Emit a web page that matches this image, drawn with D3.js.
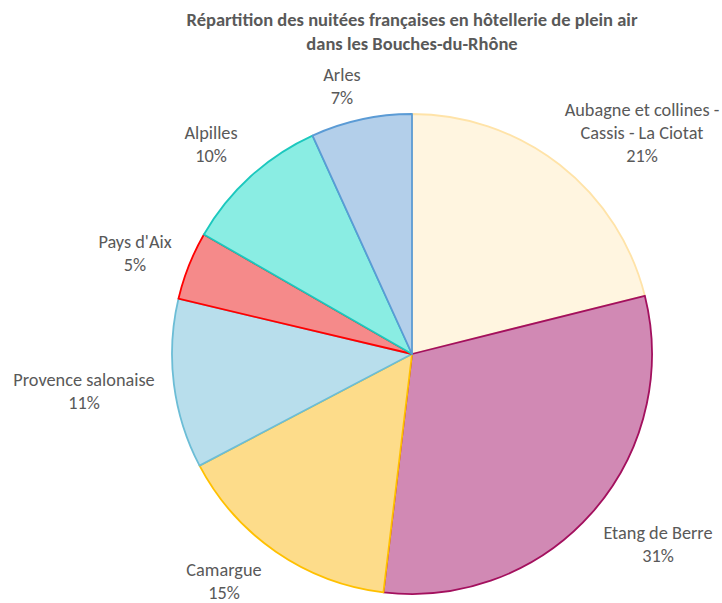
<!DOCTYPE html>
<html lang="fr">
<head>
<meta charset="UTF-8">
<title>Nuitées Bouches-du-Rhône</title>
<script src="https://d3js.org/d3.v7.min.js"></script>
<style>
  body { margin: 0; background: #fff; }
  text { font-family: Carlito, Lato, "Open Sans", sans-serif; fill: #595959; }
</style>
</head>
<body>
<div id="chart"></div>
<script>
const width = 722, height = 603;

// data (clockwise from the top)
const regions = ["Aubagne et collines - Cassis - La Ciotat", "Etang de Berre", "Camargue",
  "Provence salonaise", "Pays d'Aix", "Alpilles", "Arles"];
const shares = [21.1, 30.8, 15.4, 11.4, 4.6, 9.9, 6.8];
const fills = ["#FFF5E0", "#D189B4", "#FDDC8A", "#B8DEEC", "#F58A8A", "#8AEDE3", "#B3CFEA"];
const strokes = ["#FFE3A8", "#A3105E", "#FFC000", "#6CBDD6", "#FF0000", "#1CC8BE", "#5B9BD5"];
// label lines and their anchor points
const labelLines = [
  ["Aubagne et collines -", "Cassis - La Ciotat"],
  ["Etang de Berre"], ["Camargue"], ["Provence salonaise"],
  ["Pays d'Aix"], ["Alpilles"], ["Arles"]
];
const labelPos = [[642, 110], [658, 533], [224, 570], [84, 380], [135, 242], [211, 133], [342, 75]];

const cx = 412, cy = 354, r = 240;

const svg = d3.select("#chart").append("svg")
  .attr("width", width).attr("height", height);

// title
svg.append("text")
  .attr("x", 412).attr("y", 26)
  .attr("text-anchor", "middle")
  .style("font-weight", "bold").style("font-size", "18.5px")
  .selectAll("tspan")
  .data(["Répartition des nuitées françaises en hôtellerie de plein air", "dans les Bouches-du-Rhône"])
  .join("tspan")
  .attr("x", 412).attr("dy", (d, i) => i ? 24 : 0)
  .text(d => d);

const pie = d3.pie().sort(null).value(d => d);
const arc = d3.arc().innerRadius(0).outerRadius(r);
const arcs = pie(shares);

const g = svg.append("g").attr("transform", `translate(${cx},${cy})`);
g.selectAll("path")
  .data(arcs)
  .join("path")
  .attr("d", arc)
  .attr("fill", (d, i) => fills[i])
  .attr("stroke", (d, i) => strokes[i])
  .attr("stroke-width", 1.8)
  .attr("stroke-linejoin", "round");

// labels
const total = d3.sum(shares);
svg.selectAll("text.lbl")
  .data(regions)
  .join("text")
  .attr("class", "lbl")
  .attr("text-anchor", "middle")
  .style("font-size", "18.3px")
  .attr("x", (d, i) => labelPos[i][0])
  .attr("y", (d, i) => labelPos[i][1] + 6)
  .each(function(d, i) {
    const lines = labelLines[i].concat([Math.round(shares[i] / total * 100) + "%"]);
    d3.select(this).selectAll("tspan")
      .data(lines)
      .join("tspan")
      .attr("x", labelPos[i][0])
      .attr("dy", (t, j) => j ? 23 : 0)
      .text(t => t);
  });
</script>
</body>
</html>
